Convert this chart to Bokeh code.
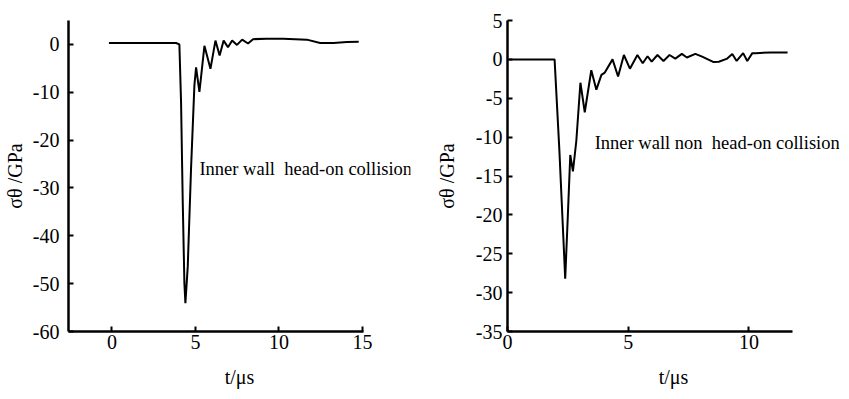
from bokeh.plotting import figure
from bokeh.layouts import row
from bokeh.models import FixedTicker, Label
from bokeh.embed import file_html
from bokeh.resources import INLINE

# ---- data: left panel (inner wall, head-on collision) ----
t_head = [-0.18, 3.84, 4.04, 4.14, 4.24, 4.34, 4.40, 4.54, 4.74, 4.94, 5.04, 5.24,
          5.54, 5.90, 6.20, 6.45, 6.69, 6.95, 7.20, 7.49, 7.80, 8.15, 8.45, 9.26,
          10.26, 11.67, 12.47, 13.27, 14.08, 14.78]
s_head = [0.3, 0.3, 0.0, -12.0, -32.7, -49.9, -54.1, -46.5, -25.8, -8.5, -4.8, -9.9,
          -0.3, -5.1, 0.8, -2.3, 0.8, -0.6, 0.8, -0.1, 1.0, 0.2, 1.1, 1.2,
          1.2, 1.0, 0.3, 0.3, 0.5, 0.55]

# ---- data: right panel (inner wall, non head-on collision) ----
t_non = [0.07, 1.95, 2.15, 2.39, 2.50, 2.60, 2.71, 2.85, 3.02, 3.20, 3.47, 3.68,
         3.89, 4.03, 4.35, 4.58, 4.82, 5.07, 5.38, 5.60, 5.80, 5.97, 6.21, 6.46,
         6.71, 6.95, 7.22, 7.43, 7.78, 8.06, 8.54, 8.75, 9.10, 9.31, 9.49, 9.76,
         9.93, 10.14, 10.28, 10.90, 11.60]
s_non = [0.0, 0.0, -11.8, -28.2, -20.0, -12.3, -14.4, -10.5, -3.0, -6.8, -1.4, -3.9,
         -2.0, -1.7, 0.0, -2.2, 0.56, -1.2, 0.56, -0.5, 0.4, -0.3, 0.56, -0.2,
         0.56, 0.1, 0.7, 0.24, 0.7, 0.35, -0.35, -0.3, 0.1, 0.7, -0.2, 0.8,
         -0.2, 0.8, 0.8, 0.9, 0.9]

# ---- ticks and texts ----
x_ticks_left = [0, 5, 10, 15]
y_ticks_left = [0, -10, -20, -30, -40, -50, -60]
y_labels_left = ["0", "-10", "-20", "-30", "-40", "-50", "-60"]
x_ticks_right = [0, 5, 10]
y_ticks_right = [5, 0, -5, -10, -15, -20, -25, -30, -35]
y_labels_right = ["5", "0", "-5", "-10", "-15", "-20", "-25", "-30", "-35"]
x_title = "t/μs"
y_title = "σθ /GPa"
note_left = "Inner wall \u00a0head-on collision"
note_right = "Inner wall non \u00a0head-on collision"

FONT = "Liberation Serif"


def style(p, xt, xbounds, yt, ylabels, y_standoff, y_lab_standoff, x_lab_standoff):
    p.xgrid.visible = False
    p.ygrid.visible = False
    p.outline_line_color = None
    p.background_fill_color = "white"
    p.border_fill_color = "white"
    p.xaxis.ticker = FixedTicker(ticks=xt)
    p.xaxis.bounds = xbounds
    p.yaxis.ticker = FixedTicker(ticks=yt)
    p.yaxis.major_label_overrides = {v: s for v, s in zip(yt, ylabels)}
    for ax in (p.xaxis[0], p.yaxis[0]):
        ax.axis_line_width = 2.5
        ax.axis_line_color = "black"
        ax.major_tick_in = 5
        ax.major_tick_out = 0
        ax.major_tick_line_width = 2
        ax.minor_tick_line_color = None
        ax.major_label_text_font = FONT
        ax.major_label_text_font_size = "20px"
        ax.major_label_text_color = "black"
        ax.axis_label_text_font = FONT
        ax.axis_label_text_font_size = "20px"
        ax.axis_label_text_font_style = "normal"
        ax.axis_label_text_color = "black"
    p.yaxis.major_label_standoff = y_standoff
    p.yaxis.axis_label_standoff = y_lab_standoff
    p.xaxis.major_label_standoff = 3
    p.xaxis.axis_label_standoff = x_lab_standoff
    p.xaxis.axis_label = x_title
    p.yaxis.axis_label = y_title


p1 = figure(width=412, height=394, x_range=(-2.6, 17.88), y_range=(-60, 5),
            output_backend="svg", toolbar_location=None,
            min_border_left=68, min_border_right=2, min_border_top=18, min_border_bottom=62)
style(p1, x_ticks_left, (-2.6, 15.05), y_ticks_left, y_labels_left, 9, 4, 14)
p1.line(t_head, s_head, line_color="black", line_width=2)
p1.add_layout(Label(x=5.24, y=-26.1, text=note_left, text_baseline="middle",
                    text_font=FONT, text_font_size="18.5px", text_color="black"))

p2 = figure(width=429, height=394, x_range=(0, 13.75), y_range=(-35, 5),
            output_backend="svg", toolbar_location=None,
            min_border_left=95, min_border_right=2, min_border_top=20, min_border_bottom=63)
style(p2, x_ticks_right, (0, 11.8), y_ticks_right, y_labels_right, 5, 15, 14)
p2.line(t_non, s_non, line_color="black", line_width=2)
p2.add_layout(Label(x=3.61, y=-10.7, text=note_right, text_baseline="middle",
                    text_font=FONT, text_font_size="18.5px", text_color="black"))

layout = row(p1, p2)
open("out.html", "w").write(file_html(layout, INLINE))
